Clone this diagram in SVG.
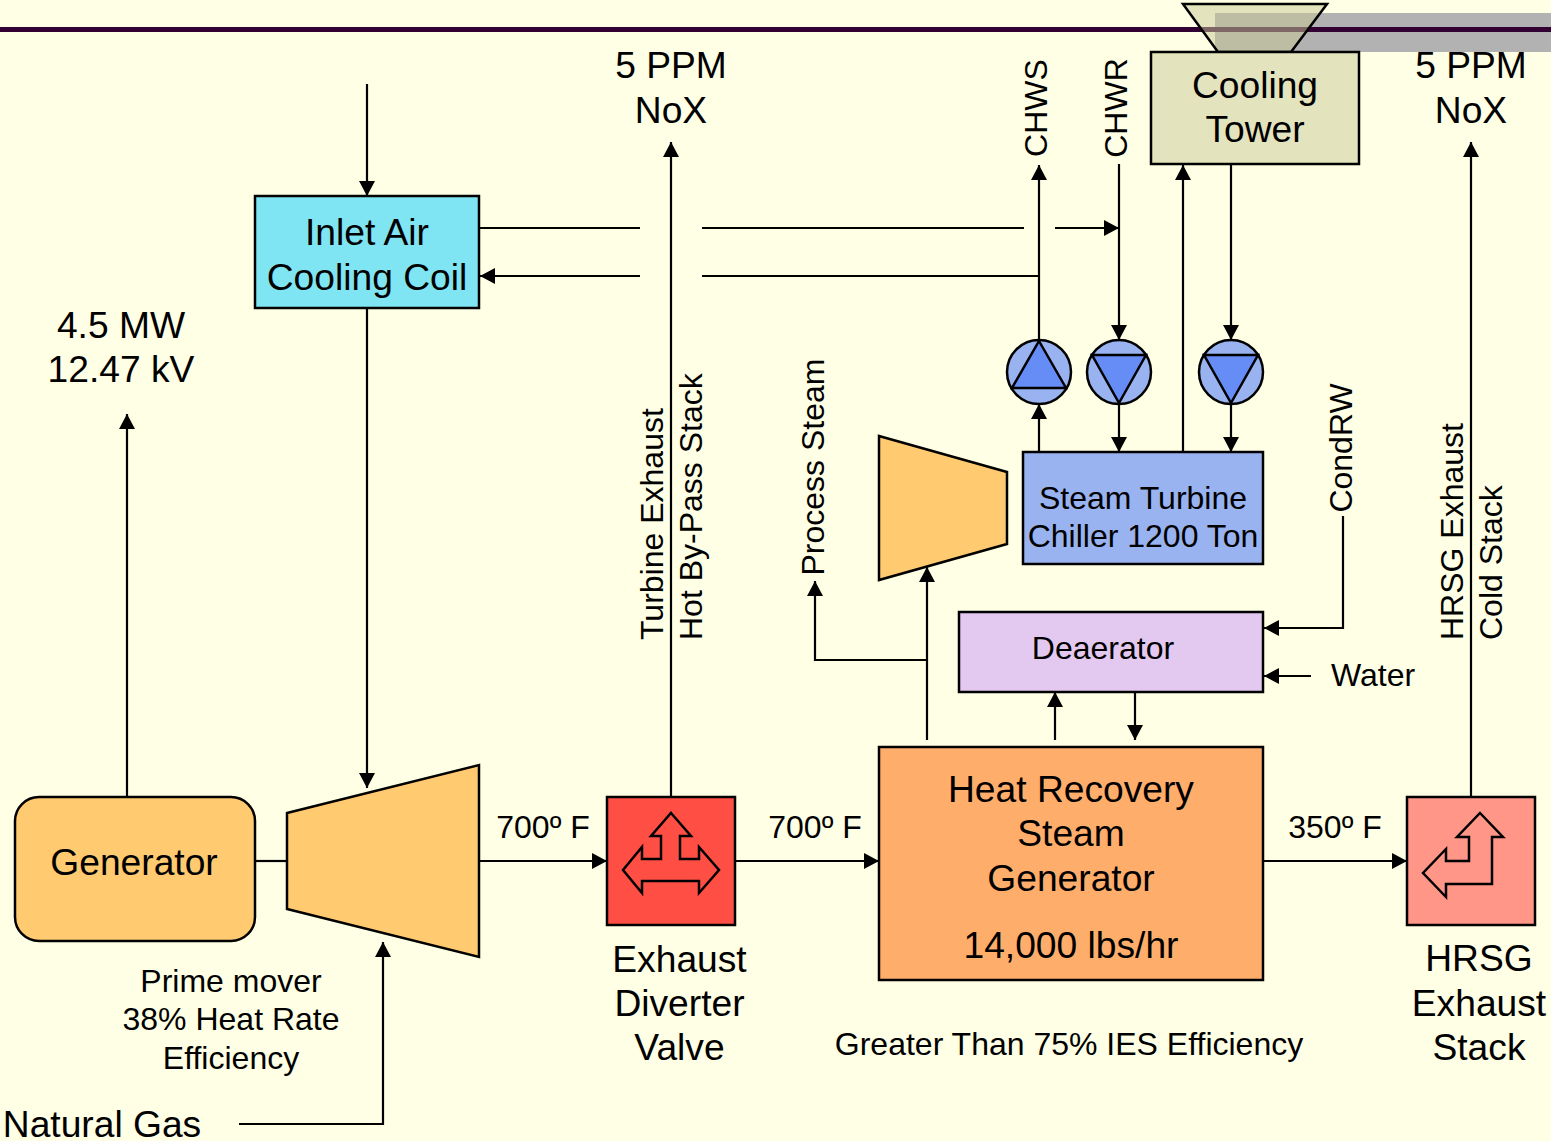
<svg xmlns="http://www.w3.org/2000/svg" width="1551" height="1141" viewBox="0 0 1551 1141">
<style>
text{font-family:"Liberation Sans",Arial,sans-serif;fill:#000;text-anchor:middle}
.t38{font-size:37.2px}.t33{font-size:32px}
.up{text-anchor:start}
.n{stroke:#000;stroke-width:2.5}
.c{fill:none;stroke:#000;stroke-width:2.2}
.a{fill:none;stroke:#000;stroke-width:2.2;marker-end:url(#ah)}
.sym{fill:none;stroke:#000;stroke-width:2.5}
</style>
<defs><marker id="ah" markerUnits="userSpaceOnUse" markerWidth="16" markerHeight="16" refX="15" refY="8" orient="auto"><path d="M0 0L15 8L0 16Z" fill="#000"/></marker></defs>
<rect width="1551" height="1141" fill="#ffffe5"/>
<rect x="1215" y="13" width="336" height="39" fill="#b2b2b2"/>
<rect x="0" y="27" width="1551" height="5" fill="#330033"/>
<g id="connectors">
<path class="a" d="M367 84V196"/>
<path class="c" d="M479 228H640M702 228H1024"/>
<path class="a" d="M1055 228H1119"/>
<path class="c" d="M1039 276H702"/>
<path class="a" d="M640 276H480"/>
<path class="a" d="M367 308V788"/>
<path class="a" d="M127 797V414"/>
<path class="c" d="M255 861H287"/>
<path class="a" d="M479 861H607"/>
<path class="a" d="M671 797V142"/>
<path class="a" d="M735 861H879"/>
<path class="a" d="M1263 861H1407"/>
<path class="a" d="M1471 797V142"/>
<path class="a" d="M239 1124H383V942"/>
<path class="a" d="M927 740V567"/>
<path class="a" d="M927 660H815V581"/>
<path class="a" d="M1055 740V692"/>
<path class="a" d="M1135 692V740"/>
<path class="a" d="M1343 516V628H1264"/>
<path class="a" d="M1311 676H1264"/>
<path class="a" d="M1039 340V165"/>
<path class="a" d="M1119 164V340"/>
<path class="a" d="M1183 452V165"/>
<path class="a" d="M1231 164V340"/>
<path class="a" d="M1039 452V404"/>
<path class="a" d="M1119 404V452"/>
<path class="a" d="M1231 404V452"/>
</g>
<g id="cooling-tower">
<path class="n" fill="#c8c897" fill-opacity=".515" d="M1183 4H1327L1291 52H1218Z"/>
<rect class="n" x="1151" y="52" width="208" height="112" fill="#e3e3bd"/>
<text class="t38" x="1255" y="98">Cooling</text><text class="t38" x="1255" y="142">Tower</text>
</g>
<g id="inlet-coil"><rect class="n" x="255" y="196" width="224" height="112" fill="#7fe5f3"/>
<text class="t38" x="367" y="245">Inlet Air</text><text class="t38" x="367" y="290">Cooling Coil</text></g>
<g id="generator"><rect class="n" x="15" y="797" width="240" height="144" rx="24" fill="#ffca70"/>
<text class="t38" x="134" y="875">Generator</text></g>
<g id="turbine"><path class="n" fill="#ffca70" d="M287 813L479 765V957L287 909Z"/></g>
<g id="valve"><rect class="n" x="607" y="797" width="128" height="128" fill="#ff4f44"/>
<path class="sym" d="M671 813L691 836H680V859H699V847L719 870L699 893V881H642V893L623 870L642 847V859H661V836H651Z"/></g>
<g id="hrsg"><rect class="n" x="879" y="747" width="384" height="233" fill="#ffad6b"/>
<text class="t38" x="1071" y="802">Heat Recovery</text><text class="t38" x="1071" y="846">Steam</text><text class="t38" x="1071" y="891">Generator</text><text class="t38" x="1071" y="958">14,000 lbs/hr</text></g>
<g id="stack"><rect class="n" x="1407" y="797" width="128" height="128" fill="#ff9688"/>
<path class="sym" d="M1480 813L1503 837H1492V884H1446V897L1423 873L1446 849V861H1469V837H1457Z"/></g>
<g id="deaerator"><rect class="n" x="959" y="612" width="304" height="80" fill="#e3c9f0"/><text class="t33" x="1103" y="659">Deaerator</text></g>
<g id="chiller"><rect class="n" x="1023" y="452" width="240" height="112" fill="#99b3f0"/>
<text class="t33" x="1143" y="509">Steam Turbine</text><text class="t33" x="1143" y="547">Chiller 1200 Ton</text></g>
<g id="steam-turbine"><path class="n" fill="#ffca70" d="M879 436L1007 472V544L879 580Z"/></g>
<g id="pump1"><circle class="n" cx="1039" cy="372" r="32" fill="#99b3f0"/><path class="n" fill="#668cf5" d="M1039 341L1066 388H1012Z"/></g>
<g id="pump2"><circle class="n" cx="1119" cy="372" r="32" fill="#99b3f0"/><path class="n" fill="#668cf5" d="M1119 403L1146 355H1092Z"/></g>
<g id="pump3"><circle class="n" cx="1231" cy="372" r="32" fill="#99b3f0"/><path class="n" fill="#668cf5" d="M1231 403L1258 355H1204Z"/></g>
<g id="labels">
<text class="t38" x="671" y="78">5 PPM</text><text class="t38" x="671" y="123">NoX</text>
<text class="t38" x="1471" y="78">5 PPM</text><text class="t38" x="1471" y="123">NoX</text>
<text class="t38" x="121" y="338">4.5 MW</text><text class="t38" x="121" y="382">12.47 kV</text>
<text class="t33" x="543" y="838">700º F</text><text class="t33" x="815" y="838">700º F</text><text class="t33" x="1335" y="838">350º F</text>
<text class="t33" x="1373" y="686">Water</text>
<text class="t33" x="231" y="992">Prime mover</text><text class="t33" x="231" y="1030">38% Heat Rate</text><text class="t33" x="231" y="1069">Efficiency</text>
<text class="t38" x="679.5" y="972">Exhaust</text><text class="t38" x="679.5" y="1016">Diverter</text><text class="t38" x="679.5" y="1060">Valve</text>
<text class="t38" x="1479" y="971">HRSG</text><text class="t38" x="1479" y="1016">Exhaust</text><text class="t38" x="1479" y="1060">Stack</text>
<text class="t33" x="1069" y="1055">Greater Than 75% IES Efficiency</text>
<text class="t38" x="102" y="1137">Natural Gas</text>
<text class="t33" transform="translate(1047 108) rotate(-90)">CHWS</text>
<text class="t33" transform="translate(1127 108) rotate(-90)">CHWR</text>
<text class="t33" transform="translate(824 467) rotate(-90)">Process Steam</text>
<text class="t33" transform="translate(1352 448) rotate(-90)">CondRW</text>
<text class="t33 up" transform="translate(663 640) rotate(-90)">Turbine Exhaust</text>
<text class="t33 up" transform="translate(702 640) rotate(-90)">Hot By-Pass Stack</text>
<text class="t33 up" transform="translate(1462.5 640) rotate(-90)">HRSG Exhaust</text>
<text class="t33 up" transform="translate(1502 640) rotate(-90)">Cold Stack</text>
</g>
</svg>
